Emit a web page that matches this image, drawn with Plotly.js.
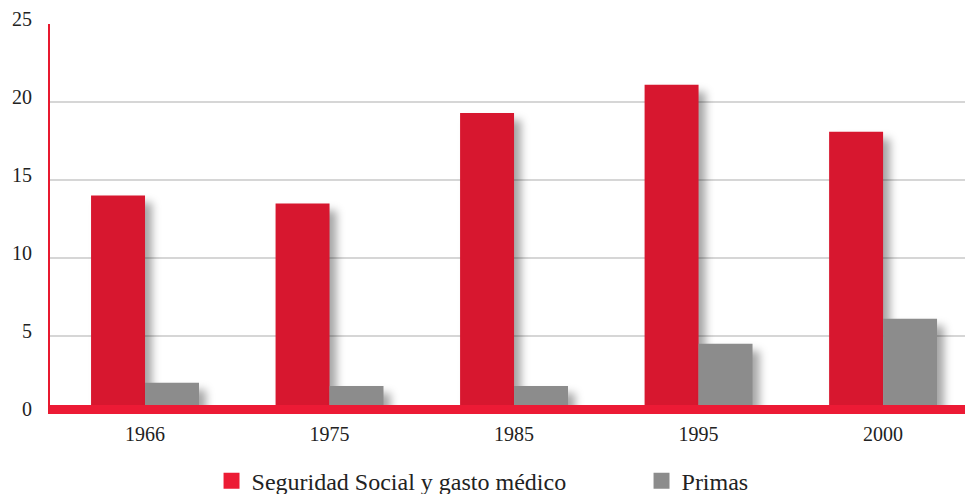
<!DOCTYPE html>
<html>
<head>
<meta charset="utf-8">
<script src="https://cdn.plot.ly/plotly-3.0.1.min.js"></script>
<style>
  body { margin: 0; padding: 0; background: #fff; }
  #chart { width: 965px; height: 494px; }
  .barlayer .point path { filter: drop-shadow(7px 7px 4px rgba(0,0,0,0.35)); }
  .legendpoints path { transform: translate(20px, 0px) scale(1.33); }
  .legend .traces:first-child .legendpoints path { fill: #ec1b34 !important; }
</style>
</head>
<body>
<div id="chart"></div>
<script>
const years = ['1966', '1975', '1985', '1995', '2000'];
const seguridadSocial = [14.0, 13.5, 19.3, 21.1, 18.1];
const primas = [2.0, 1.8, 1.8, 4.5, 6.1];
const yTicks = [0, 5, 10, 15, 20, 25];

const serif = 'Liberation Serif';

const traces = [
  { type: 'bar', name: 'Seguridad Social y gasto médico', x: years, y: seguridadSocial,
    marker: { color: '#d7172f', line: { width: 0 } }, hoverinfo: 'skip' },
  { type: 'bar', name: 'Primas', x: years, y: primas,
    marker: { color: '#8c8c8c', line: { width: 0 } }, hoverinfo: 'skip' }
];

const layout = {
  width: 965, height: 494,
  margin: { l: 50, r: 0, t: 24, b: 80, autoexpand: false },
  paper_bgcolor: '#fff', plot_bgcolor: '#fff',
  font: { family: serif, size: 20, color: '#222' },
  barmode: 'group', bargap: 0.415, bargroupgap: 0,
  showlegend: true,
  legend: { orientation: 'h', xref: 'container', x: 0.2192, xanchor: 'left',
            yref: 'container', y: 0.026, yanchor: 'middle',
            font: { family: serif, size: 24, color: '#222' }, entrywidth: 385, entrywidthmode: 'pixels',
            traceorder: 'normal', bgcolor: 'rgba(0,0,0,0)' },
  xaxis: { type: 'category', range: [-0.515, 4.444], showgrid: false, zeroline: false,
           showline: false, ticks: '', tickfont: { family: serif, size: 20, color: '#222' },
           ticklabelstandoff: 6, fixedrange: true },
  yaxis: { range: [0, 25], tickvals: yTicks, ticktext: yTicks.map(String),
           showgrid: true, gridcolor: '#d6d6d6', gridwidth: 2, zeroline: false,
           showline: true, linecolor: '#e8192f', linewidth: 2,
           ticks: '', tickfont: { family: serif, size: 20, color: '#222' },
           ticklabelshift: -5, ticklabelstandoff: 12, fixedrange: true },
  shapes: [
    { type: 'rect', xref: 'paper', x0: 0, x1: 1, yref: 'y', ysizemode: 'pixel', yanchor: 0,
      y0: -2, y1: 9, fillcolor: '#ec1a35', line: { width: 0 }, layer: 'above' }
  ]
};

Plotly.newPlot('chart', traces, layout, { displayModeBar: false, staticPlot: true });
</script>
</body>
</html>
